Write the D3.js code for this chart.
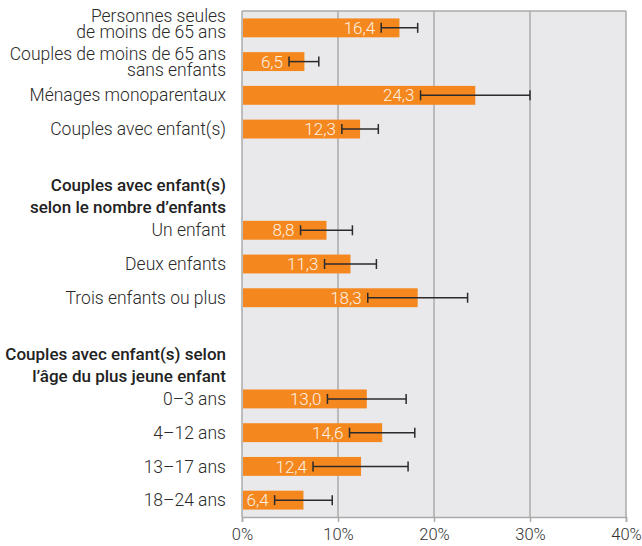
<!DOCTYPE html>
<html><head><meta charset="utf-8">
<script src="https://cdn.jsdelivr.net/npm/d3@7"></script>
<style>body{margin:0;background:#fff}svg{display:block;font-family:Roboto,sans-serif}</style>
</head><body><svg id="c" width="642" height="546"></svg>
<script>
const rows = ["r0","r1","r2","r3","h1a","h1b","r6","r7","r8","h2a","h2b","r11","r12","r13","r14"];
const categories = [
  ["Personnes seules","de moins de 65 ans"],
  ["Couples de moins de 65 ans","sans enfants"],
  ["Ménages monoparentaux"],
  ["Couples avec enfant(s)"],
  ["Un enfant"],["Deux enfants"],["Trois enfants ou plus"],
  ["0–3 ans"],["4–12 ans"],["13–17 ans"],["18–24 ans"]
];
const barRows = ["r0","r1","r2","r3","r6","r7","r8","r11","r12","r13","r14"];
const values = [16.4,6.5,24.3,12.3,8.8,11.3,18.3,13.0,14.6,12.4,6.4];
const lowCI  = [14.5,4.9,18.6,10.4,6.1,8.6,13.1,8.9,11.2,7.4,3.4];
const highCI = [18.3,8.0,30.0,14.2,11.5,14.0,23.5,17.1,18.0,17.3,9.4];
const headers = [
  {row:"h1b", lines:["Couples avec enfant(s)","selon le nombre d’enfants"]},
  {row:"h2b", lines:["Couples avec enfant(s) selon","l’âge du plus jeune enfant"]}
];
const ticks = [0,10,20,30,40];

const svg = d3.select("#c");
const L=242, R=626, T=11, B=517;
const x = d3.scaleLinear().domain([0,40]).range([L,R]);
const y = d3.scaleBand().domain(rows).range([T,B]).paddingInner(0.44).paddingOuter(0.22);
const cy = r => y(r)+y.bandwidth()/2;
const labelShift = {r0:-3.5, r1:0.5};

svg.append("rect").attr("x",L).attr("y",T).attr("width",R-L).attr("height",B-T).attr("fill","#e9e9ec");
svg.append("g").selectAll("line").data(ticks).join("line")
  .attr("x1",d=>x(d)).attr("x2",d=>x(d)).attr("y1",T).attr("y2",B)
  .attr("stroke","#aaaaaa").attr("stroke-width",1.5);
svg.append("line").attr("x1",L).attr("x2",R).attr("y1",T).attr("y2",T).attr("stroke","#aaaaaa").attr("stroke-width",1.5);

const data = values.map((v,i)=>({v,lo:lowCI[i],hi:highCI[i],row:barRows[i],cat:categories[i]}));
svg.append("g").selectAll("rect").data(data).join("rect")
  .attr("x",x(0)+1).attr("y",d=>y(d.row)).attr("width",d=>x(d.v)-x(0)-1).attr("height",y.bandwidth())
  .attr("fill","#f5871f");

// value labels
svg.append("g").selectAll("text").data(data).join("text")
  .attr("x",d=>x(d.lo)-6).attr("y",d=>cy(d.row)).attr("dy","0.36em")
  .attr("text-anchor","end").attr("fill","#fdf1e3").attr("font-size",17).attr("font-weight",300)
  .text(d=>d3.format(".1f")(d.v).replace(".",","));

// error bars
const eb = svg.append("g").attr("stroke","#2b2b2b").attr("stroke-width",1.5);
data.forEach(d=>{
  const c=cy(d.row);
  eb.append("line").attr("x1",x(d.lo)).attr("x2",x(d.hi)).attr("y1",c).attr("y2",c);
  eb.append("line").attr("x1",x(d.lo)).attr("x2",x(d.lo)).attr("y1",c-5).attr("y2",c+5);
  eb.append("line").attr("x1",x(d.hi)).attr("x2",x(d.hi)).attr("y1",c-5).attr("y2",c+5);
});

// category labels
const lab = svg.append("g").attr("font-size",17.5).attr("font-weight",300).attr("fill","#2a2a2a").attr("text-anchor","end");
data.forEach(d=>{
  const c=cy(d.row)+(labelShift[d.row]||0), n=d.cat.length;
  d.cat.forEach((t,j)=>{
    lab.append("text").attr("x",226).attr("y",c+(j-(n-1)/2)*16).attr("dy","0.35em").text(t);
  });
});
headers.forEach(h=>{
  const c = cy(h.row);
  h.lines.forEach((t,j)=>{
    lab.append("text").attr("x",226).attr("y",c+(j-0.5)*22).attr("dy","0.35em")
      .attr("font-size",17).attr("font-weight",500).attr("fill","#222").text(t);
  });
});

// bottom axis
const ax = svg.append("g").attr("transform",`translate(0,${B})`)
  .call(d3.axisBottom(x).tickValues(ticks).tickSize(5).tickPadding(6).tickFormat(d=>d+"%"));
ax.select(".domain").attr("stroke","#aaaaaa").attr("stroke-width",1.5);
ax.selectAll(".tick line").attr("stroke","#aaaaaa").attr("stroke-width",1.5);
ax.selectAll("text").attr("font-size",16.5).attr("font-weight",300).attr("fill","#333").attr("font-family","Roboto,sans-serif");
</script></body></html>
